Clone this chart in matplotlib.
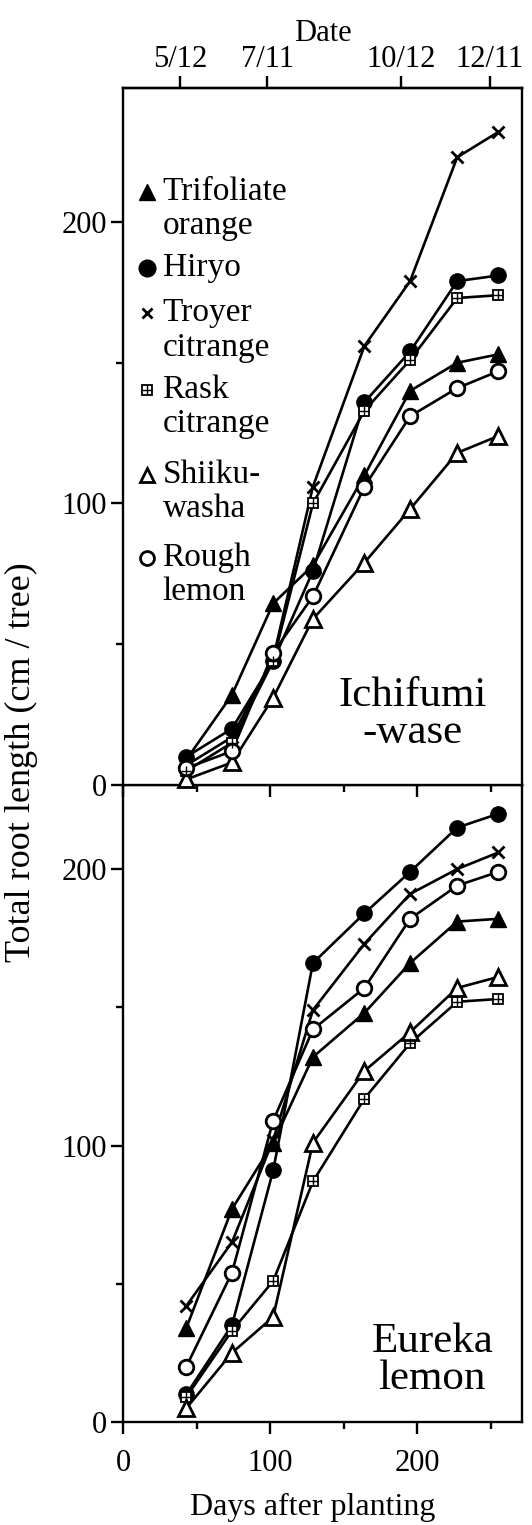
import matplotlib.pyplot as plt
from matplotlib.ticker import MultipleLocator

plt.rcParams['font.family'] = ['Liberation Serif', 'DejaVu Serif']

# Sampling days (days after planting)
days = [43, 74, 102, 129, 164, 195, 227, 255]

# Dates shown on the top axis and their day positions
date_labels = ['5/12', '7/11', '10/12', '12/11']
date_days = [39, 98, 189, 249]

# Rootstock names (legend) and the two scion panels
rootstocks = ['Trifoliate\norange', 'Hiryo', 'Troyer\ncitrange', 'Rask\ncitrange',
              'Shiiku-\nwasha', 'Rough\nlemon']

# Ichifumi-wase (top panel), total root length cm / tree
ichi_trifoliate = [9, 32, 64.5, 78, 110, 140, 150, 153]
ichi_hiryo = [10, 20, 44, 76, 136, 154, 179, 181]
ichi_troyer = [7, 17, 45, 106, 156, 179, 223, 232]
ichi_rask = [5, 15, 44, 100, 133, 151, 173, 174]
ichi_shiikuwasha = [2, 8, 31, 59, 79, 98, 118, 124]
ichi_rough = [6, 12, 47, 67, 106, 131, 141, 147]

# Eureka lemon (bottom panel)
eur_trifoliate = [34, 77, 101, 132, 148, 166, 181, 182]
eur_hiryo = [10, 35, 91, 166, 184, 199, 215, 220]
eur_troyer = [42, 65, 102, 149, 173, 191, 200, 206]
eur_rask = [9, 33, 51, 87, 117, 137, 152, 153]
eur_shiikuwasha = [5, 25, 38, 101, 127, 141, 157, 161]
eur_rough = [20, 54, 109, 142, 157, 182, 194, 199]

# marker styles for each rootstock
styles = [
    dict(marker='^', mfc='black', mec='black', ms=11),
    dict(marker='o', mfc='black', mec='black', ms=11),
    dict(marker='x', mfc='black', mec='black', ms=8.5, mew=2),
    dict(marker='s', mfc='white', mec='black', ms=7.5, mew=1.3),
    dict(marker='^', mfc='white', mec='black', ms=11, mew=2),
    dict(marker='o', mfc='white', mec='black', ms=10.5, mew=2),
]


def draw_series(ax, x, y, st, **kw):
    ax.plot(x, y, color='black', lw=1.9, zorder=2, **kw)
    ax.plot(x, y, ls='none', zorder=3, clip_on=False, **st, **kw)
    if st['marker'] == 's':
        # grid inside the square (rask marker)
        ax.plot(x, y, ls='none', marker='+', color='black', ms=st['ms'],
                mew=1.0, zorder=4, clip_on=False, **kw)


def style_axes(ax, ylim):
    ax.set_xlim(0, 271)
    ax.set_ylim(0, ylim)
    for s in ax.spines.values():
        s.set_linewidth(1.7)
    ax.xaxis.set_major_locator(MultipleLocator(100))
    ax.xaxis.set_minor_locator(MultipleLocator(50))
    ax.yaxis.set_major_locator(MultipleLocator(100))
    ax.yaxis.set_minor_locator(MultipleLocator(50))
    ax.tick_params(which='major', direction='out', length=8.5, width=1.7,
                   labelsize=22, right=False, top=False)
    ax.tick_params(which='minor', direction='out', length=5, width=1.7,
                   right=False, top=False)
    ax.tick_params(axis='y', pad=3)
    ax.tick_params(axis='x', pad=11)


fig = plt.figure(figsize=(5.32, 15.25), dpi=100)
# bottom axes added first so the top panel's downward ticks show over it
ax2 = fig.add_axes([123 / 532, 103 / 1525, 399 / 532, 637 / 1525])
ax1 = fig.add_axes([123 / 532, 740 / 1525, 399 / 532, 697 / 1525])
ax2.patch.set_visible(False)

top_data = [ichi_trifoliate, ichi_hiryo, ichi_troyer, ichi_rask, ichi_shiikuwasha, ichi_rough]
bot_data = [eur_trifoliate, eur_hiryo, eur_troyer, eur_rask, eur_shiikuwasha, eur_rough]

for vals, st in zip(top_data, styles):
    draw_series(ax1, days, vals, st)
for vals, st in zip(bot_data, styles):
    draw_series(ax2, days, vals, st)

style_axes(ax1, 247.6)
style_axes(ax2, 230.4)
ax1.tick_params(axis='x', which='both', labelbottom=False)
ax2.set_xlabel('Days after planting', fontsize=23)
ax2.xaxis.set_label_coords(0.475, -0.111)
fig.text(0.04, 0.50, 'Total root length (cm / tree)', rotation=90,
         fontsize=26, ha='center', va='center')

# top date axis
secax = ax1.secondary_xaxis('top')
secax.set_xticks(date_days, labels=date_labels)
secax.tick_params(direction='out', length=9, width=1.7, labelsize=22, pad=1)
secax.spines['top'].set_linewidth(1.7)
secax.set_xlabel('Date', fontsize=22, labelpad=3)

# legend drawn by hand (marker beside first line of each label)
leg_y = [0.851, 0.742, 0.677, 0.567, 0.445, 0.326]
leg_ms = [12, 12, 7, 7, 10, 10]
line_gap = 0.049
for name, st, yy, ms in zip(rootstocks, styles, leg_y, leg_ms):
    st2 = dict(st)
    st2['ms'] = ms
    ax1.plot([0.059], [yy], ls='none', transform=ax1.transAxes,
             clip_on=False, zorder=5, **st2)
    if st['marker'] == 's':
        ax1.plot([0.059], [yy], ls='none', marker='+', color='black', ms=ms,
                 mew=1.0, transform=ax1.transAxes, zorder=6)
    for i, part in enumerate(name.split('\n')):
        ax1.text(0.099, yy - i * line_gap, part, transform=ax1.transAxes,
                 fontsize=24, ha='left', va='center')

# panel labels
ax1.text(0.725, 0.102, 'Ichifumi\n-wase', transform=ax1.transAxes,
         fontsize=31, ha='center', va='center', multialignment='center',
         linespacing=0.95)
ax2.text(0.775, 0.097, 'Eureka\nlemon', transform=ax2.transAxes,
         fontsize=31, ha='center', va='center', multialignment='center',
         linespacing=0.95)

fig.savefig('out.png', dpi=100)
